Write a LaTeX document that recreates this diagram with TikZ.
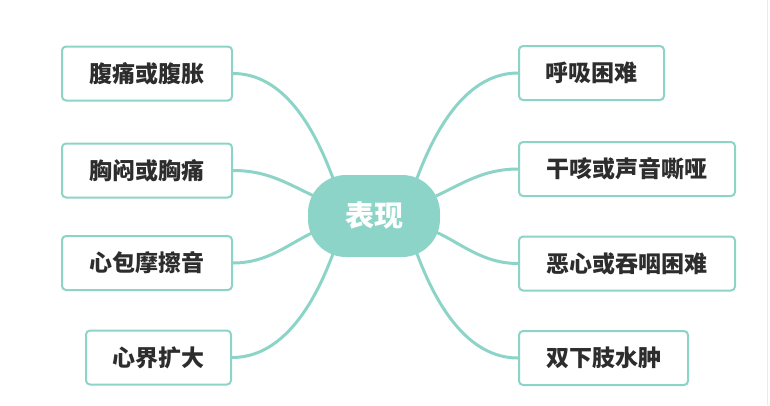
\documentclass[tikz,border=0pt]{standalone}
\usepackage{fontspec}
\newfontfamily\cjk{Noto Sans CJK SC}
\usetikzlibrary{backgrounds}
\definecolor{teal1}{RGB}{141,212,200}
\definecolor{txt}{RGB}{45,45,45}
\begin{document}
\begin{tikzpicture}[x=1pt,y=-1pt,
  leaf/.style={draw=teal1, line width=2pt, rounded corners=4pt, fill=white,
    minimum height=54pt, inner sep=0pt, text=txt,
    font=\cjk\bfseries\fontsize{23}{26}\selectfont},
  hub/.style={fill=teal1, rounded corners=38pt, minimum width=132pt,
    minimum height=82pt, inner sep=0pt, text=white,
    font=\cjk\bfseries\fontsize{29}{32}\selectfont},
  link/.style={draw=teal1, line width=3pt}]
\useasboundingbox (0,0) rectangle (770,405);
\draw[black!8, line width=1pt] (767,0) -- (767,405);
\node[hub] (c) at (374,216) {表现};
% left
\node[leaf, minimum width=170pt, anchor=east] (l1) at (233,73.5) {腹痛或腹胀};
\node[leaf, minimum width=170pt, anchor=east] (l2) at (233,170.5) {胸闷或胸痛};
\node[leaf, minimum width=170pt, anchor=east] (l3) at (233,263) {心包摩擦音};
\node[leaf, minimum width=145pt, anchor=east] (l4) at (232,357.5) {心界扩大};
% right
\node[leaf, minimum width=145pt, anchor=west] (r1) at (518,73) {呼吸困难};
\node[leaf, minimum width=216pt, anchor=west] (r2) at (518,169) {干咳或声音嘶哑};
\node[leaf, minimum width=216pt, anchor=west] (r3) at (518,263.5) {恶心或吞咽困难};
\node[leaf, minimum width=169pt, anchor=west] (r4) at (518,358) {双下肢水肿};
% attachment points on hub
\coordinate (a1) at ([shift={(-40,-35)}]c.center);
\coordinate (a2) at ([shift={(-60,-20)}]c.center);
\coordinate (a3) at ([shift={(-60,16)}]c.center);
\coordinate (a4) at ([shift={(-40,35)}]c.center);
\coordinate (b1) at ([shift={(42,-35)}]c.center);
\coordinate (b2) at ([shift={(62,-20)}]c.center);
\coordinate (b3) at ([shift={(62,16)}]c.center);
\coordinate (b4) at ([shift={(42,35)}]c.center);
\begin{scope}[on background layer]
\draw[link] (l1.east) .. controls +(50,0) and +(-20,-55) .. (a1);
\draw[link] (l2.east) .. controls +(35,0) and +(-26,-12) .. (a2);
\draw[link] (l3.east) .. controls +(35,0) and +(-26,12) .. (a3);
\draw[link] (l4.east) .. controls +(50,0) and +(-20,55) .. (a4);
\draw[link] (r1.west) .. controls +(-50,0) and +(20,-55) .. (b1);
\draw[link] (r2.west) .. controls +(-35,0) and +(26,-12) .. (b2);
\draw[link] (r3.west) .. controls +(-35,0) and +(26,12) .. (b3);
\draw[link] (r4.west) .. controls +(-50,0) and +(20,55) .. (b4);
\end{scope}
\end{tikzpicture}
\end{document}
